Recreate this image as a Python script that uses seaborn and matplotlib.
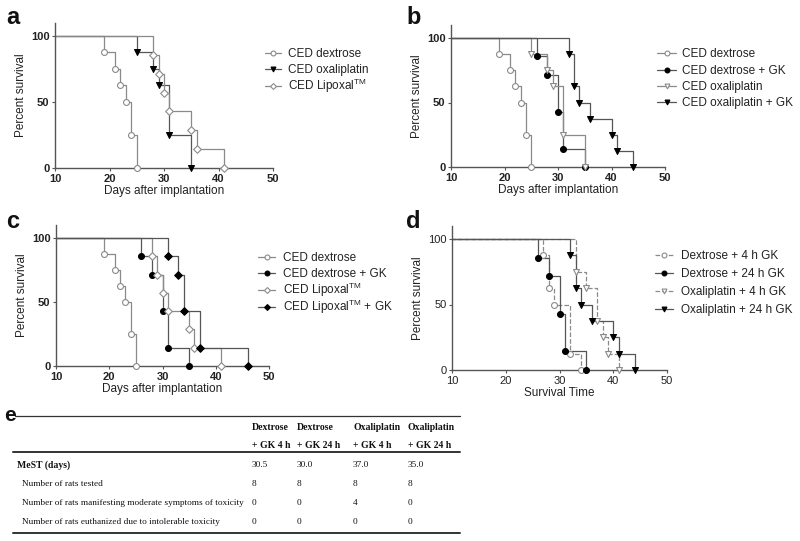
import matplotlib
matplotlib.use("Agg")
import matplotlib.pyplot as plt
import seaborn as sns
import pandas as pd

sns.set_style("ticks")
plt.rcParams["font.family"] = ["Liberation Sans", "DejaVu Sans"]
plt.rcParams["mathtext.fontset"] = "custom"
plt.rcParams["mathtext.rm"] = "Liberation Sans"

# ---------------- data ----------------
# panel a
a_dex_t = [19, 21, 22, 23, 24, 25]
a_dex_s = [87.5, 75, 62.5, 50, 25, 0]
a_oxa_t = [25, 28, 29, 31, 35]
a_oxa_s = [87.5, 75, 62.5, 25, 0]
a_lip_t = [28, 29, 30, 31, 35, 36, 41]
a_lip_s = [85.7, 71.4, 57.1, 42.9, 28.6, 14.3, 0]
# panel b
b_dex_t = a_dex_t
b_dex_s = a_dex_s
b_dexgk_t = [26, 28, 30, 31, 35]
b_dexgk_s = [85.7, 71.4, 42.9, 14.3, 0]
b_oxa_t = [25, 28, 29, 31, 35]
b_oxa_s = [87.5, 75, 62.5, 25, 0]
b_oxagk_t = [32, 33, 34, 36, 40, 41, 44]
b_oxagk_s = [87.5, 62.5, 50, 37.5, 25, 12.5, 0]
# panel c
c_dex_t = a_dex_t
c_dex_s = a_dex_s
c_dexgk_t = [26, 28, 30, 31, 35]
c_dexgk_s = [85.7, 71.4, 42.9, 14.3, 0]
c_lip_t = [28, 29, 30, 31, 35, 36, 41]
c_lip_s = [85.7, 71.4, 57.1, 42.9, 28.6, 14.3, 0]
c_lipgk_t = [31, 33, 34, 37, 46]
c_lipgk_s = [85.7, 71.4, 42.9, 14.3, 0]
# panel d
d_dex4_t = [27, 28, 29, 32, 34]
d_dex4_s = [87.5, 62.5, 50, 12.5, 0]
d_dex24_t = [26, 28, 30, 31, 35]
d_dex24_s = [85.7, 71.4, 42.9, 14.3, 0]
d_oxa4_t = [33, 35, 37, 38, 39, 41]
d_oxa4_s = [75, 62.5, 37.5, 25, 12.5, 0]
d_oxa24_t = [32, 33, 34, 36, 40, 41, 44]
d_oxa24_s = [87.5, 62.5, 50, 37.5, 25, 12.5, 0]

a_labels = ["CED dextrose", "CED oxaliplatin", "CED Lipoxal$^{\\mathrm{TM}}$"]
b_labels = ["CED dextrose", "CED dextrose + GK", "CED oxaliplatin", "CED oxaliplatin + GK"]
c_labels = ["CED dextrose", "CED dextrose + GK", "CED Lipoxal$^{\\mathrm{TM}}$",
            "CED Lipoxal$^{\\mathrm{TM}}$ + GK"]
d_labels = ["Dextrose + 4 h GK", "Dextrose + 24 h GK", "Oxaliplatin + 4 h GK",
            "Oxaliplatin + 24 h GK"]

table_cols = [["Dextrose", "+ GK 4 h"], ["Dextrose", "+ GK 24 h"],
              ["Oxaliplatin", "+ GK 4 h"], ["Oxaliplatin", "+ GK 24 h"]]
table_rows = ["MeST (days)", "Number of rats tested",
              "Number of rats manifesting moderate symptoms of toxicity",
              "Number of rats euthanized due to intolerable toxicity"]
table_vals = [["30.5", "30.0", "37.0", "35.0"],
              ["8", "8", "8", "8"],
              ["0", "0", "4", "0"],
              ["0", "0", "0", "0"]]

# ---------------- styles ----------------
OPEN = dict(face="white", edge="#8a8a8a", line="#8a8a8a")
FILL = dict(face="black", edge="black", line="#555555")

fig = plt.figure(figsize=(8.0, 5.41), dpi=100)
W, H = 800, 541


def ax_at(x10, x50, y0, y100):
    left = x10 / W
    width = (x50 - x10) / W
    ppu = (y0 - y100) / 100.0
    ytop = y0 - ppu * 110
    bottom = (H - y0) / H
    height = (y0 - ytop) / H
    return fig.add_axes([left, bottom, width, height])


def km(ax, t, s, marker, style, ls="-"):
    xs = [0] + list(t)
    ys = [100] + list(s)
    df = pd.DataFrame({"t": xs, "s": ys})
    sns.lineplot(data=df, x="t", y="s", ax=ax, drawstyle="steps-post",
                 color=style["line"], linewidth=0.9, linestyle=ls,
                 sort=False, estimator=None)
    ev = pd.DataFrame({"t": t, "s": s})
    ms = 15 if marker == "D" else 18
    sns.scatterplot(data=ev, x="t", y="s", ax=ax, marker=marker, s=ms,
                    color=style["face"], edgecolor=style["edge"],
                    linewidth=0.8, zorder=5, clip_on=False)


def finish(ax, xlabel, bold_ticks=True):
    ax.set_xlim(10, 50)
    ax.set_ylim(0, 110)
    ax.set_xticks([10, 20, 30, 40, 50])
    ax.set_yticks([0, 50, 100])
    sns.despine(ax=ax)
    for sp in ("left", "bottom"):
        ax.spines[sp].set_color("#555555")
        ax.spines[sp].set_linewidth(1.0)
    ax.tick_params(axis="both", length=2.5, width=0.8, color="#555555",
                   labelsize=8, pad=1.5, labelcolor="#222222")
    for lab in ax.get_xticklabels() + ax.get_yticklabels():
        lab.set_fontweight("bold" if bold_ticks else "normal")
    ax.set_xlabel(xlabel, fontsize=8.5, labelpad=1, color="#222222")
    ax.set_ylabel("Percent survival", fontsize=8.5, labelpad=3, color="#222222")


# panel a
axa = ax_at(55, 273, 168, 36)
km(axa, a_dex_t, a_dex_s, "o", OPEN)
km(axa, a_oxa_t, a_oxa_s, "v", FILL)
km(axa, a_lip_t, a_lip_s, "D", OPEN)
finish(axa, "Days after implantation")

# panel b
axb = ax_at(451, 665, 167, 38)
km(axb, b_dex_t, b_dex_s, "o", OPEN)
km(axb, b_dexgk_t, b_dexgk_s, "o", FILL)
km(axb, b_oxa_t, b_oxa_s, "v", OPEN)
km(axb, b_oxagk_t, b_oxagk_s, "v", FILL)
finish(axb, "Days after implantation")

# panel c
axc = ax_at(56, 269, 366, 238)
km(axc, c_dex_t, c_dex_s, "o", OPEN)
km(axc, c_dexgk_t, c_dexgk_s, "o", FILL)
km(axc, c_lip_t, c_lip_s, "D", OPEN)
km(axc, c_lipgk_t, c_lipgk_s, "D", FILL)
finish(axc, "Days after implantation")

# panel d
axd = ax_at(452, 667, 370, 239)
km(axd, d_dex4_t, d_dex4_s, "o", OPEN, ls="--")
km(axd, d_dex24_t, d_dex24_s, "o", FILL)
km(axd, d_oxa4_t, d_oxa4_s, "v", OPEN, ls="--")
km(axd, d_oxa24_t, d_oxa24_s, "v", FILL)
finish(axd, "Survival Time", bold_ticks=False)

# overlay in pixel coordinates (legends, letters, table)
tax = fig.add_axes([0, 0, 1, 1])
tax.set_xlim(0, W)
tax.set_ylim(H, 0)
tax.axis("off")


def legend(x0, x1, xt, ys, labels, specs):
    for y, lab, (mk, st, ls) in zip(ys, labels, specs):
        tax.plot([x0, x1], [y, y], color=st["line"], lw=0.9, linestyle=ls)
        tax.plot([(x0 + x1) / 2], [y], marker=mk,
                 markersize=3.0 if mk == "D" else 3.5,
                 markerfacecolor=st["face"], markeredgecolor=st["edge"],
                 markeredgewidth=0.8, linestyle="none")
        tax.text(xt, y + 4, lab, fontsize=8.5, ha="left", va="baseline",
                 color="#222222")


legend(265, 281, 288, [53, 69, 86], a_labels,
       [("o", OPEN, "-"), ("v", FILL, "-"), ("D", OPEN, "-")])
legend(657, 676, 682, [53, 70, 86, 102], b_labels,
       [("o", OPEN, "-"), ("o", FILL, "-"), ("v", OPEN, "-"), ("v", FILL, "-")])
legend(258, 275, 283, [257, 273, 290, 307], c_labels,
       [("o", OPEN, "-"), ("o", FILL, "-"), ("D", OPEN, "-"), ("D", FILL, "-")])
legend(655, 673, 681, [255, 273, 291, 309], d_labels,
       [("o", OPEN, "--"), ("o", FILL, "-"), ("v", OPEN, "--"), ("v", FILL, "-")])

# panel letters
for lx, ly, ch in [(6, 18, "a"), (406, 18, "b"), (6, 222, "c"), (406, 222, "d")]:
    tax.text(lx, ly, ch, fontsize=17, fontweight="bold",
             ha="left", va="center", color="#111111")

# ---------------- table (panel e) ----------------
tax.text(4, 421, "e", fontsize=15, fontweight="bold", ha="left", va="baseline",
         color="#111111")
tax.plot([15, 460], [416, 416], color="#333333", lw=0.9)
tax.plot([13, 460], [452, 452], color="#333333", lw=1.4)
tax.plot([13, 460], [533, 533], color="#333333", lw=1.4)

serif = ["Liberation Serif", "DejaVu Serif"]
FS = 6.7
col_x = [252, 297, 353, 408]
hdr_y = [427, 446]
for cx, (h1, h2) in zip(col_x, table_cols):
    tax.text(cx, hdr_y[0], h1, family=serif, fontsize=FS + 0.3, fontweight="bold",
             ha="left", va="center", color="#111111")
    tax.text(cx, hdr_y[1], h2, family=serif, fontsize=FS + 0.3, fontweight="bold",
             ha="left", va="center", color="#111111")
row_y = [465, 484, 503, 522]
for i, (ry, rl, vals) in enumerate(zip(row_y, table_rows, table_vals)):
    tax.text(17 if i == 0 else 22, ry, rl, family=serif, fontsize=FS + (0.3 if i == 0 else 0),
             fontweight="bold" if i == 0 else "normal", ha="left", va="center",
             color="#111111")
    for cx, v in zip(col_x, vals):
        tax.text(cx, ry, v, family=serif, fontsize=FS, ha="left", va="center",
                 color="#111111")

fig.savefig("out.png", dpi=100)
